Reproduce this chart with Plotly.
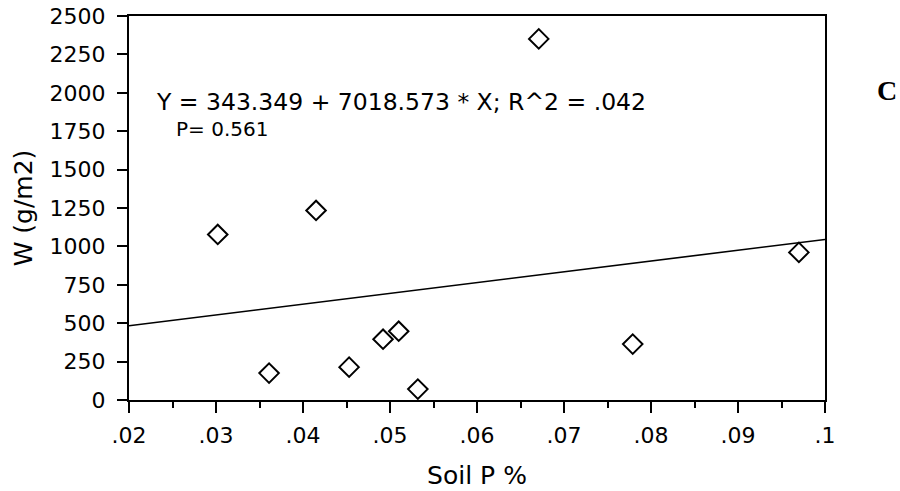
import plotly.graph_objects as go

# Soil phosphorus (%) and biomass W (g/m2) for each plot
soil_p = [0.0302, 0.0361, 0.0415, 0.0453, 0.0492, 0.0510, 0.0532, 0.0671, 0.0779, 0.0970]
biomass = [1078, 175, 1234, 214, 396, 448, 71, 2351, 364, 961]

# Least-squares fit reported on the chart
intercept = 343.349
slope = 7018.573
r_squared = ".042"
p_value = "0.561"

x_tick_vals = [0.02, 0.03, 0.04, 0.05, 0.06, 0.07, 0.08, 0.09, 0.10]
x_tick_text = [".02", ".03", ".04", ".05", ".06", ".07", ".08", ".09", ".1"]
y_tick_vals = [0, 250, 500, 750, 1000, 1250, 1500, 1750, 2000, 2250, 2500]

FONT = "DejaVu Sans"
x_range = [0.02, 0.10]

# Plot area in pixels, used to place the free-floating labels
PLOT_LEFT, PLOT_WIDTH = 129, 696
PLOT_BOTTOM, PLOT_HEIGHT = 400, 384


def px_to_paper(px, py):
    return (px - PLOT_LEFT) / PLOT_WIDTH, (PLOT_BOTTOM - py) / PLOT_HEIGHT


fig = go.Figure()

# Fitted line across the whole x range
fig.add_trace(go.Scatter(
    x=x_range,
    y=[intercept + slope * v for v in x_range],
    mode="lines",
    line=dict(color="black", width=1.6),
    hoverinfo="skip",
    showlegend=False,
))

fig.add_trace(go.Scatter(
    x=soil_p,
    y=biomass,
    mode="markers",
    marker=dict(symbol="diamond-open", size=15, color="black",
                line=dict(color="black", width=2)),
    showlegend=False,
))

eq_x, eq_y = px_to_paper(154, 102)
p_x, p_y = px_to_paper(174, 129)
c_x, c_y = px_to_paper(887, 90)

fig.update_layout(
    width=900, height=491,
    margin=dict(l=129, r=75, t=16, b=91),
    paper_bgcolor="white",
    plot_bgcolor="white",
    font=dict(family=FONT, color="black"),
    xaxis=dict(
        range=x_range,
        automargin=False,
        tickvals=x_tick_vals,
        ticktext=x_tick_text,
        ticks="outside", ticklen=11, tickwidth=2, tickcolor="black",
        minor=dict(dtick=0.005, tick0=0.02, ticks="outside", ticklen=6,
                   tickwidth=2, tickcolor="black", showgrid=False),
        showline=True, linecolor="black", linewidth=2, mirror=True,
        showgrid=False, zeroline=False,
        tickfont=dict(family=FONT, size=22),
        ticklabelstandoff=4,
        title=dict(text="Soil P %", font=dict(family=FONT, size=25), standoff=19),
    ),
    yaxis=dict(
        range=[0, 2500],
        automargin=False,
        tickvals=y_tick_vals,
        ticks="outside", ticklen=10, tickwidth=2, tickcolor="black",
        ticklabelstandoff=7,
        showline=True, linecolor="black", linewidth=2, mirror=True,
        showgrid=False, zeroline=False,
        tickfont=dict(family=FONT, size=22),
        title=dict(text="W (g/m2)", font=dict(family=FONT, size=25), standoff=10),
    ),
    annotations=[
        dict(
            text=f"Y = {intercept} + {slope} * X; R^2 = {r_squared}",
            xref="paper", yref="paper", x=eq_x, y=eq_y,
            xanchor="left", yanchor="middle", showarrow=False,
            font=dict(family=FONT, size=23.5, color="black"),
        ),
        dict(
            text=f"P= {p_value}",
            xref="paper", yref="paper", x=p_x, y=p_y,
            xanchor="left", yanchor="middle", showarrow=False,
            font=dict(family=FONT, size=20, color="black"),
        ),
        dict(
            text="<b>C</b>",
            xref="paper", yref="paper", x=c_x, y=c_y,
            xanchor="center", yanchor="middle", showarrow=False,
            font=dict(family="Liberation Serif", size=28, color="black"),
        ),
    ],
)

fig.write_html("out.html")
